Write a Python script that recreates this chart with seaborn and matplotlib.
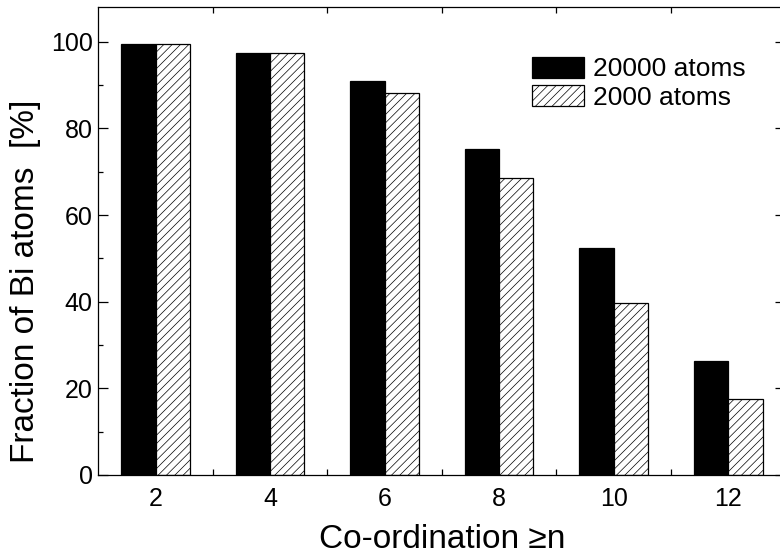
import pandas as pd
import seaborn as sns
import matplotlib.pyplot as plt
from matplotlib.patches import Patch
from matplotlib.ticker import MultipleLocator, FixedLocator

# values
coordination = [2, 4, 6, 8, 10, 12]
frac_20000 = [99.6, 97.5, 90.9, 75.3, 52.3, 26.4]
frac_2000 = [99.6, 97.5, 88.1, 68.5, 39.6, 17.5]
series = ['20000 atoms', '2000 atoms']

df = pd.DataFrame({
    'n': coordination * 2,
    'frac': frac_20000 + frac_2000,
    'set': [series[0]] * len(coordination) + [series[1]] * len(coordination),
})

sns.set_style('ticks')
plt.rcParams['font.family'] = ['Liberation Sans', 'DejaVu Sans']
plt.rcParams['hatch.linewidth'] = 0.5
plt.rcParams['hatch.color'] = '#555555'
for key in ['text.color', 'axes.labelcolor', 'xtick.color', 'ytick.color', 'axes.edgecolor']:
    plt.rcParams[key] = 'black'

fig = plt.figure(figsize=(7.8, 5.58), dpi=100)
ax = fig.add_axes([0.126, 0.149, 0.881, 0.838])

sns.barplot(data=df, x='n', y='frac', hue='set', hue_order=series,
            palette=['black', 'white'], native_scale=True, width=0.6, gap=0,
            edgecolor='black', linewidth=0.9, errorbar=None, legend=False, ax=ax)

# hatch the small-cell bars
for bar in ax.containers[1]:
    bar.set_hatch('////')

ax.set_xlim(1, 13)
ax.set_ylim(0, 108)

ax.xaxis.set_major_locator(FixedLocator(coordination))
ax.xaxis.set_minor_locator(FixedLocator([3, 5, 7, 9, 11]))
ax.yaxis.set_major_locator(MultipleLocator(20))
ax.yaxis.set_minor_locator(MultipleLocator(10))

ax.tick_params(axis='x', which='major', length=0, pad=9, labelsize=18,
               top=True, bottom=True)
ax.tick_params(axis='x', which='minor', direction='in', length=4, width=0.9,
               top=True, bottom=True)
ax.tick_params(axis='y', which='major', direction='in', length=7, width=0.9,
               pad=4, labelsize=18, left=True, right=True)
ax.tick_params(axis='y', which='minor', direction='in', length=3.5, width=0.9,
               left=True, right=False)

for s in ax.spines.values():
    s.set_linewidth(0.9)
    s.set_visible(True)

ax.set_xlabel('Co-ordination \u2265n', fontsize=24, labelpad=9)
ax.set_ylabel('Fraction of Bi atoms  [%]', fontsize=24)
ax.yaxis.set_label_coords(-0.084, 0.413)

handles = [Patch(facecolor='black', edgecolor='black', linewidth=0.9),
           Patch(facecolor='white', edgecolor='black', linewidth=0.9, hatch='////')]
fig.legend(handles, series, loc='upper left', bbox_to_anchor=(0.682, 0.898),
           frameon=False, fontsize=19, handlelength=1.97, handleheight=0.83,
           handletextpad=0.35, labelspacing=0.15, borderpad=0, borderaxespad=0)

fig.savefig('out.png', dpi=100)
